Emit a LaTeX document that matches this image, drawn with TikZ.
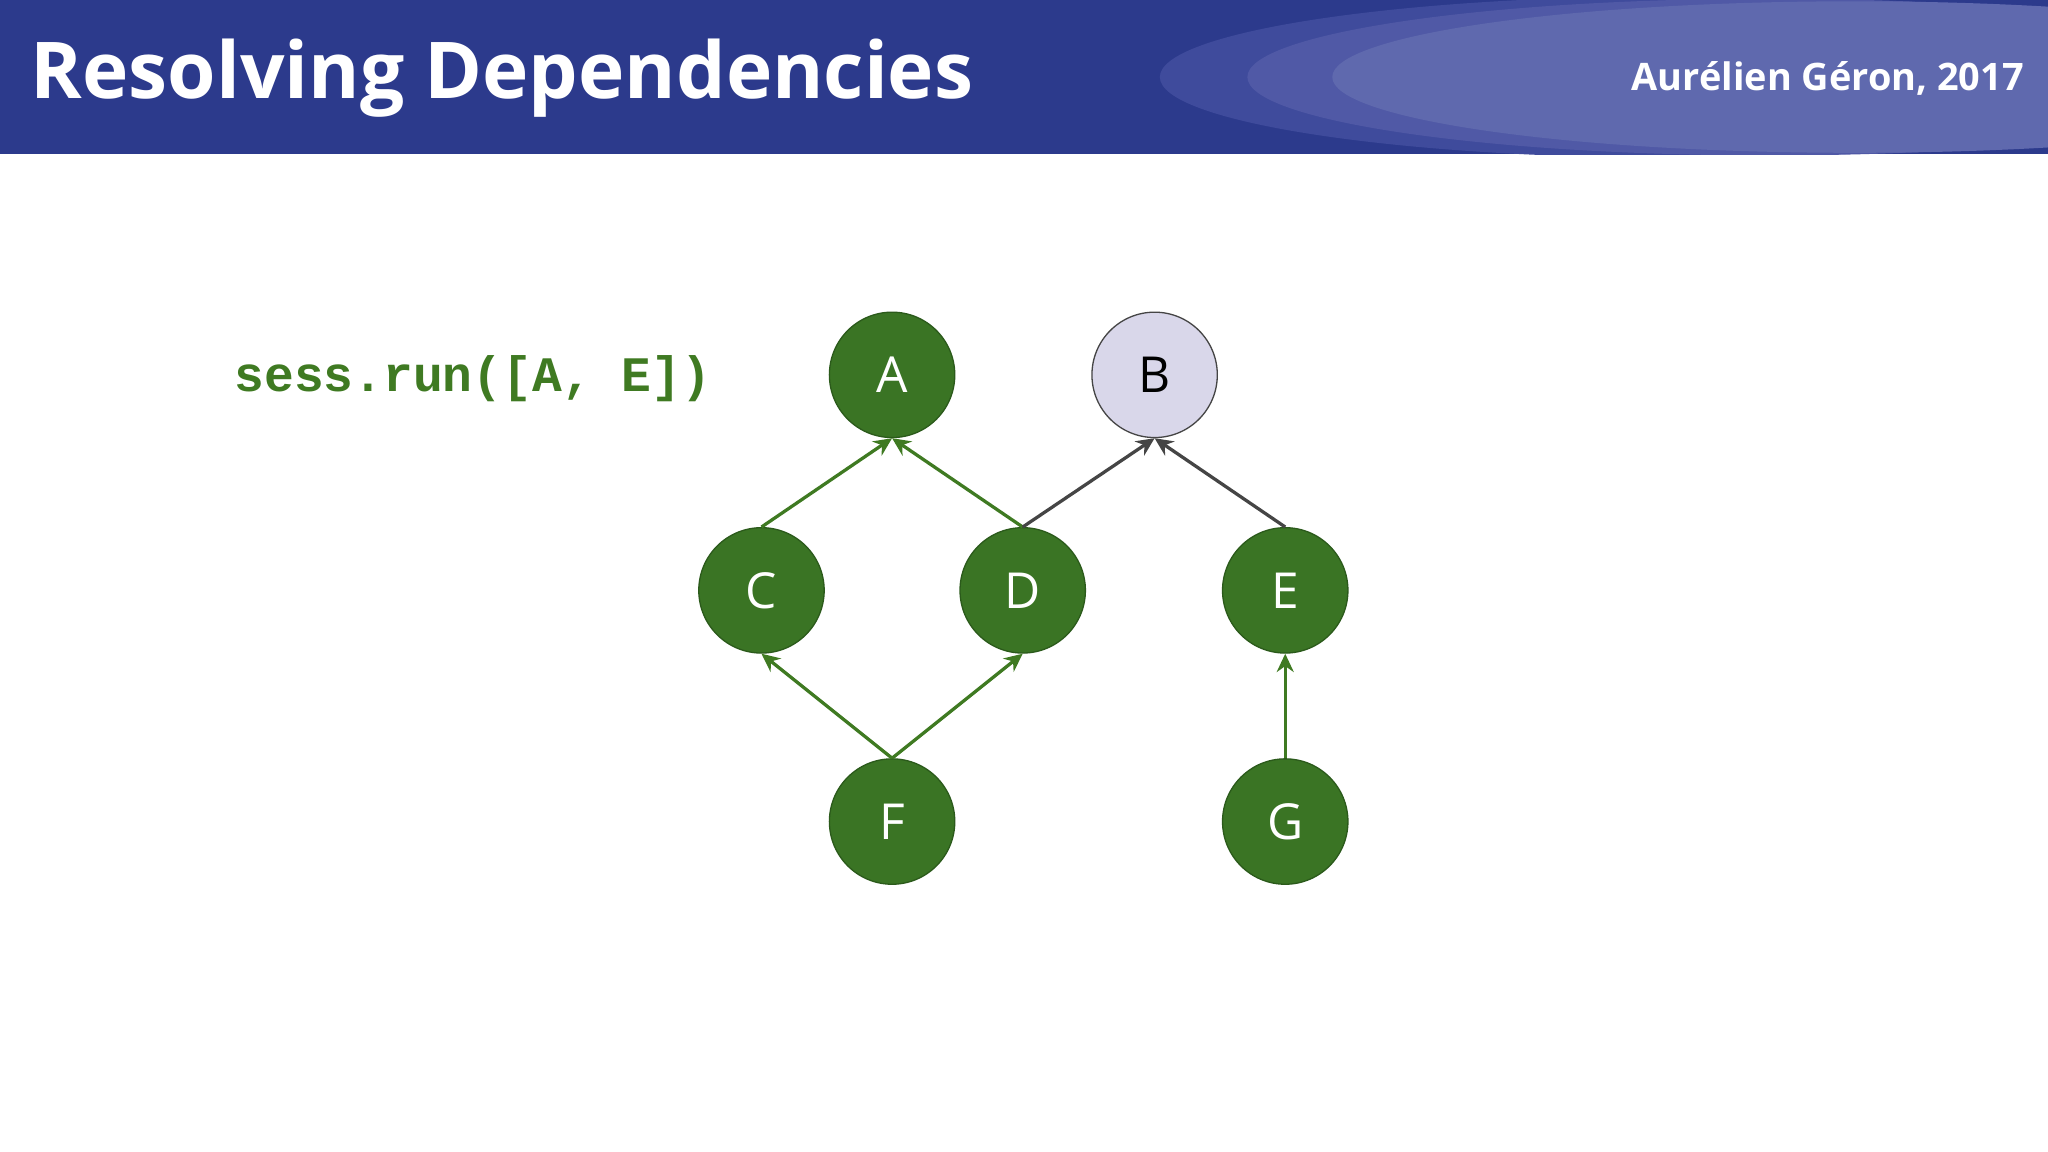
\documentclass[tikz,border=0pt]{standalone}
\usepackage{fontspec}
\setmainfont{Open Sans}
\newfontfamily\codefont{Liberation Mono}
\usetikzlibrary{arrows.meta}
\definecolor{hdr}{HTML}{2C3A8C}
\definecolor{e1}{HTML}{3F4B9C}
\definecolor{e2}{HTML}{5059A6}
\definecolor{e3}{HTML}{5F69AE}
\definecolor{gfill}{HTML}{3A7424}
\definecolor{gdark}{HTML}{2B5A1B}
\definecolor{gline}{HTML}{3F7A22}
\definecolor{bfill}{HTML}{D9D7EA}
\definecolor{dline}{HTML}{454545}
\tikzset{
 gnode/.style={circle,draw=gdark,line width=1pt,fill=gfill,minimum size=96pt,inner sep=0pt,text=white,font=\fontsize{38}{40}\selectfont},
 bnode/.style={gnode,fill=bfill,draw=dline,text=black},
 garrow/.style={draw=gline,line width=2.5pt,-{Stealth[length=14pt,width=13pt]}},
 darrow/.style={garrow,draw=dline},
}
\begin{document}
\begin{tikzpicture}[x=1pt,y=-1pt]
\useasboundingbox (0,0) rectangle (1568,882);
\fill[white] (0,0) rectangle (1568,882);
\begin{scope}
\clip (0,0) rectangle (1568,118);
\fill[hdr] (0,0) rectangle (1568,118);
\fill[e1] (1288,59) ellipse [x radius=400, y radius=62];
\fill[e2] (1355,59) ellipse [x radius=400, y radius=60];
\fill[e3] (1420,59) ellipse [x radius=400, y radius=58];
\end{scope}
\node[anchor=west,text=white,font=\bfseries\fontsize{60}{64}\selectfont] (title) at (20,60) {Resolving Dependencies};
\node[anchor=east,text=white,font=\bfseries\fontsize{29}{32}\selectfont] (auth) at (1553,60) {Aurélien Géron, 2017};
\node[anchor=west,text=gline,font=\codefont\bfseries\fontsize{38}{40}\selectfont] (code) at (176,290) {sess.run([A, E])};
\node[gnode] (A) at (683,287) {A};
\node[bnode] (B) at (884,287) {B};
\node[gnode] (C) at (583,452) {C};
\node[gnode] (D) at (783,452) {D};
\node[gnode] (E) at (984,452) {E};
\node[gnode] (F) at (683,629) {F};
\node[gnode] (G) at (984,629) {G};
\draw[garrow] (C.north) -- (A.south);
\draw[garrow] (D.north) -- (A.south);
\draw[darrow] (D.north) -- (B.south);
\draw[darrow] (E.north) -- (B.south);
\draw[garrow] (F.north) -- (C.south);
\draw[garrow] (F.north) -- (D.south);
\draw[garrow] (G.north) -- (E.south);
\end{tikzpicture}
\end{document}
